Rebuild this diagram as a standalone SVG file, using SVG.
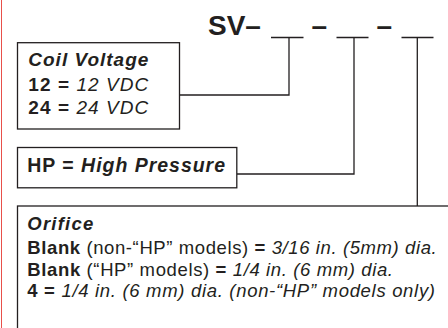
<svg xmlns="http://www.w3.org/2000/svg" width="448" height="328" viewBox="0 0 448 328">
<style>
text{font-family:"Liberation Sans",Arial,Helvetica,sans-serif;fill:#231f20}
.b{font-weight:bold}
.i{font-style:italic}
.box{fill:#fff;stroke:#231f20;stroke-width:1.3}
.ln{fill:none;stroke:#231f20;stroke-width:1.3}
.t1{font-size:19px}
.t2{font-size:19.5px}
.t3{font-size:18.5px}
</style>
<rect x="0" y="0" width="448" height="328" fill="#fff"/>
<line x1="1.5" y1="0" x2="1.5" y2="328" stroke="#e8504a" stroke-width="1"/>
<g id="title">
<text x="208" y="35" class="b" font-size="28">SV–</text>
<text x="311.5" y="35" class="b" font-size="28">–</text>
<text x="376.5" y="35" class="b" font-size="28">–</text>
</g>
<g id="connectors">
<line class="ln" x1="271" y1="37.5" x2="303.5" y2="37.5"/>
<line class="ln" x1="336.5" y1="37.5" x2="368.5" y2="37.5"/>
<line class="ln" x1="401.5" y1="37.5" x2="433.5" y2="37.5"/>
<polyline class="ln" points="289,37.5 289,95 179.5,95"/>
<polyline class="ln" points="354,37.5 354,174 237,174"/>
<line class="ln" x1="417.3" y1="37.5" x2="417.3" y2="206"/>
</g>
<g id="coil">
<rect class="box" x="17.5" y="42.7" width="162" height="86.3"/>
<text x="28.3" y="66" class="t1 b i" textLength="120" lengthAdjust="spacing">Coil Voltage</text>
<text x="28.3" y="91" class="t1" textLength="120" lengthAdjust="spacing"><tspan class="b">12 = </tspan><tspan class="i">12 VDC</tspan></text>
<text x="28.3" y="113.5" class="t1" textLength="120" lengthAdjust="spacing"><tspan class="b">24 = </tspan><tspan class="i">24 VDC</tspan></text>
</g>
<g id="hp">
<rect class="box" x="17.5" y="147.5" width="219.3" height="40.3"/>
<text x="27.3" y="171.7" class="t2" textLength="197.7" lengthAdjust="spacing"><tspan class="b">HP = </tspan><tspan class="b i">High Pressure</tspan></text>
</g>
<g id="orifice">
<rect class="box" x="17.5" y="206" width="440" height="130"/>
<text x="27.3" y="230" class="t3 b i" textLength="66" lengthAdjust="spacing">Orifice</text>
<text x="27.3" y="254" class="t3" textLength="409.4" lengthAdjust="spacing"><tspan class="b">Blank</tspan> (non-“HP” models) <tspan class="b">=</tspan> <tspan class="i">3/16 in. (5mm) dia.</tspan></text>
<text x="27.3" y="275.5" class="t3" textLength="365.7" lengthAdjust="spacing"><tspan class="b">Blank</tspan> (“HP” models) <tspan class="b">=</tspan> <tspan class="i">1/4 in. (6 mm) dia.</tspan></text>
<text x="27.3" y="297" class="t3" textLength="407.7" lengthAdjust="spacing"><tspan class="b">4 =</tspan> <tspan class="i">1/4 in. (6 mm) dia. (non-“HP” models only)</tspan></text>
</g>
</svg>
